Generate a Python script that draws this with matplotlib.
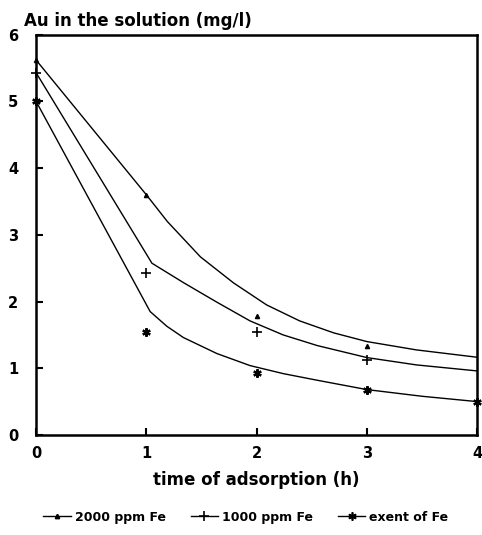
import matplotlib.pyplot as plt
from matplotlib.lines import Line2D

# measured points
t = [0, 1, 2, 3, 4]
fe2000 = [5.62, 3.6, 1.78, 1.33]
fe1000 = [5.43, 2.43, 1.54, 1.12]
fe_exent = [5.0, 1.54, 0.93, 0.67, 0.49]

# fitted curves
curve_t2000 = [0, 1.0, 1.19, 1.49, 1.79, 2.09, 2.39, 2.7, 3.0, 3.45, 4.0]
curve_2000 = [5.62, 3.6, 3.2, 2.67, 2.28, 1.95, 1.71, 1.53, 1.4, 1.275, 1.165]
curve_t1000 = [0, 1.05, 1.34, 1.64, 1.94, 2.24, 2.55, 3.0, 3.45, 4.0]
curve_1000 = [5.43, 2.575, 2.28, 1.99, 1.71, 1.5, 1.34, 1.16, 1.05, 0.96]
curve_texent = [0, 1.034, 1.185, 1.336, 1.64, 1.94, 2.24, 2.55, 3.0, 3.5, 4.0]
curve_exent = [5.0, 1.85, 1.63, 1.46, 1.22, 1.04, 0.92, 0.82, 0.68, 0.58, 0.5]

labels = ["2000 ppm Fe", "1000 ppm Fe", "exent of Fe"]
markers = ["^", "+", (6, 2, 0)]
msizes = [3, 7, 6]

plt.rcParams["font.family"] = ["DejaVu Sans"]
plt.rcParams["font.weight"] = "bold"

fig = plt.figure(figsize=(4.82, 5.35), dpi=100)
ax = fig.add_axes([0.075, 0.187, 0.915, 0.748])

ax.plot(curve_t2000, curve_2000, color="black", lw=1.0)
ax.plot(curve_t1000, curve_1000, color="black", lw=1.0)
ax.plot(curve_texent, curve_exent, color="black", lw=1.0)

ax.plot(t[:len(fe2000)], fe2000, ls="none", marker=markers[0], ms=msizes[0], color="black", clip_on=False)
ax.plot(t[:len(fe1000)], fe1000, ls="none", marker=markers[1], ms=msizes[1], mew=1.2, color="black", clip_on=False)
ax.plot(t, fe_exent, ls="none", marker=markers[2], ms=msizes[2], mew=1.6, color="black", clip_on=False)

ax.set_xlim(0, 4)
ax.set_ylim(0, 6)
ax.set_xticks([0, 1, 2, 3, 4])
ax.set_yticks([0, 1, 2, 3, 4, 5, 6])
ax.tick_params(direction="in", length=5, width=1.5, labelsize=10.5)
ax.tick_params(axis="x", pad=8)
ax.tick_params(axis="y", pad=13)
for s in ax.spines.values():
    s.set_linewidth(1.8)
for lab in ax.get_xticklabels() + ax.get_yticklabels():
    lab.set_fontweight("bold")

ax.set_xlabel("time of adsorption (h)", fontsize=12, fontweight="bold", labelpad=7)
fig.text(0.05, 0.978, "Au in the solution (mg/l)", fontsize=12, fontweight="bold", va="top")

handles = [Line2D([], [], color="black", lw=1.0, marker=m, ms=s, mew=1.2) for m, s in zip(markers, msizes)]
fig.legend(handles, labels, loc="lower center", bbox_to_anchor=(0.51, 0.0), ncol=3, frameon=False,
           prop={"size": 9, "weight": "bold"}, handlelength=2.2, columnspacing=2.0, handletextpad=0.3)

fig.savefig("out.png", dpi=100)
